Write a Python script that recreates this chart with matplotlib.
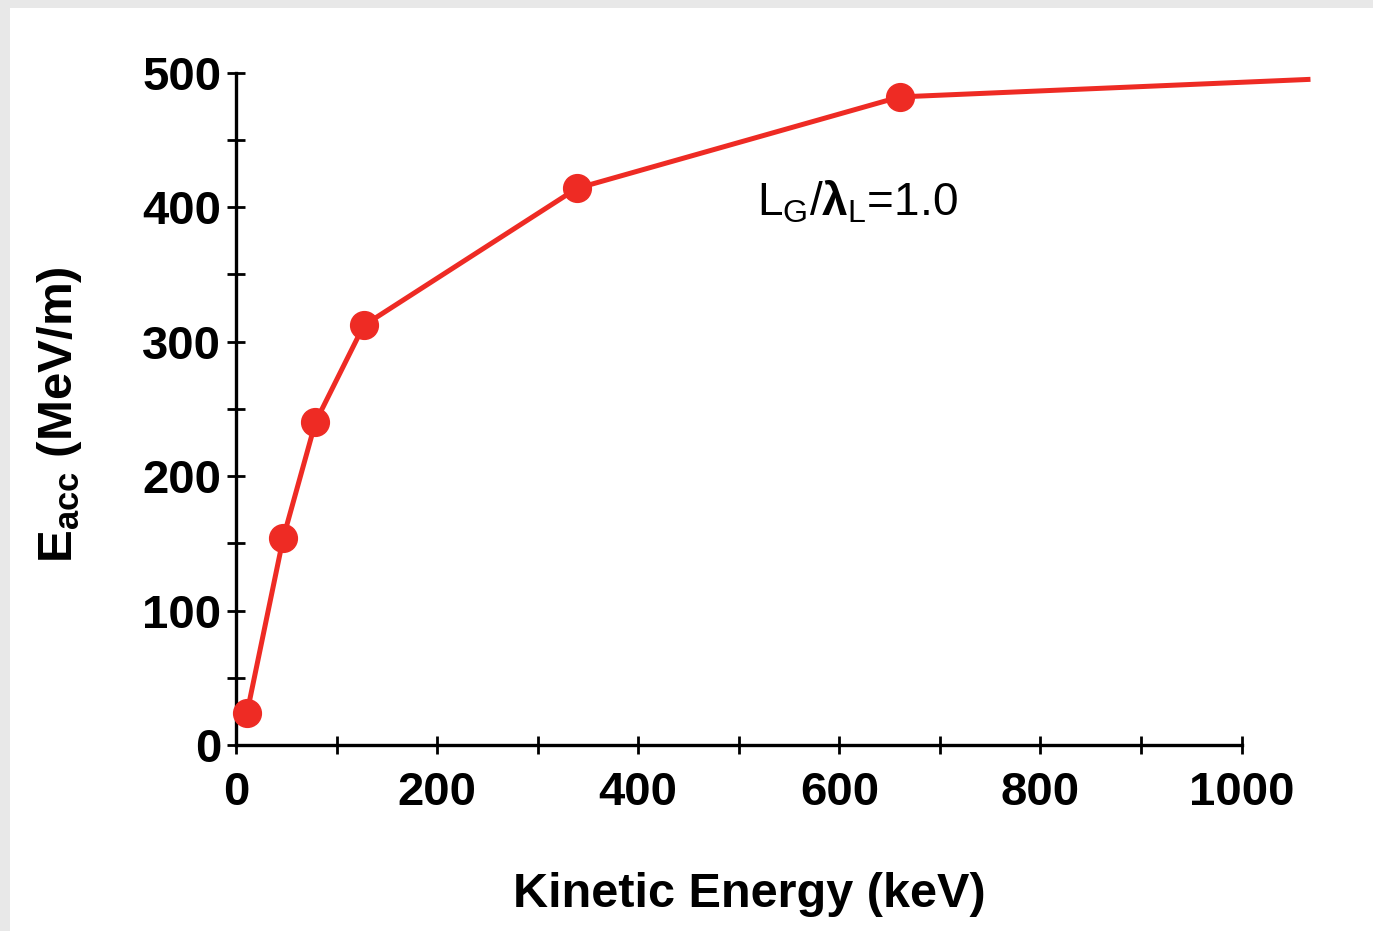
import numpy as np
import matplotlib.pyplot as plt
from matplotlib.patches import Rectangle
from matplotlib.ticker import MultipleLocator

# values
kinetic_energy = [11, 47, 79, 127, 339, 660, 1066]
e_acc = [24, 154, 240, 312, 414, 482, 495]
marked = 6  # last point has no marker
x_ticks = [0, 200, 400, 600, 800, 1000]
y_ticks = [0, 100, 200, 300, 400, 500]

plt.rcParams['font.family'] = ['Liberation Sans', 'DejaVu Sans']
plt.rcParams['mathtext.fontset'] = 'custom'
plt.rcParams['mathtext.rm'] = 'Liberation Sans'
plt.rcParams['mathtext.it'] = 'Liberation Sans:italic'
plt.rcParams['mathtext.bf'] = 'Liberation Sans:bold'

red = '#ee2b24'

fig = plt.figure(figsize=(13.73, 9.31), dpi=100, facecolor='#e8e8e8')
bg = Rectangle((10/1373, 0), 1, 1 - 8/931, transform=fig.transFigure,
               facecolor='white', edgecolor='none', zorder=-10)
fig.add_artist(bg)

ax = fig.add_axes([236/1373, 1 - 745/931, 1076/1373, 679/931])
ax.set_facecolor('none')

ax.plot(kinetic_energy, e_acc, color=red, lw=3.6, clip_on=False, zorder=3)
ax.plot(kinetic_energy[:marked], e_acc[:marked], 'o', color=red, ms=20,
        clip_on=False, zorder=4)

ax.set_xlim(0, 1070)
ax.set_ylim(0, 505)

for s in ['top', 'right']:
    ax.spines[s].set_visible(False)
ax.spines['bottom'].set_bounds(0, 1000)
ax.spines['left'].set_bounds(0, 500)
for s in ['bottom', 'left']:
    ax.spines[s].set_linewidth(2.4)

ax.set_xticks(x_ticks)
ax.set_yticks(y_ticks)
ax.xaxis.set_minor_locator(MultipleLocator(100))
ax.yaxis.set_minor_locator(MultipleLocator(50))
ax.tick_params(which='both', direction='inout', length=13, width=2)
ax.tick_params(axis='x', which='major', pad=12)
ax.tick_params(axis='y', which='major', pad=4)
for lbl in ax.get_xticklabels() + ax.get_yticklabels():
    lbl.set_fontsize(34)
    lbl.set_fontweight('bold')

ax.set_xlabel('Kinetic Energy (keV)', fontsize=35, fontweight='bold')
ax.xaxis.set_label_coords(0.477, -0.238)
ax.xaxis.label.set_va('baseline')
ax.set_ylabel(r'$\mathbf{E_{acc}}$ (MeV/m)', fontsize=35.5, fontweight='bold')
ax.yaxis.set_label_coords(-0.152, 0.487)
ax.yaxis.label.set_va('baseline')

ax.text(518, 394, r'L$_\mathregular{G}$/$\mathbf{\lambda}_\mathregular{L}$=1.0', fontsize=33)

fig.savefig('out.png', dpi=100, facecolor=fig.get_facecolor())
